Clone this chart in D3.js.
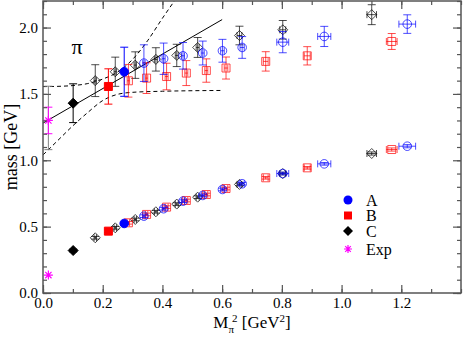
<!DOCTYPE html>
<html><head><meta charset="utf-8">
<script src="https://cdn.jsdelivr.net/npm/d3@7"></script>
<style>
html,body{margin:0;padding:0;background:#fff;}
svg{display:block;font-family:"Liberation Serif","Times New Roman",serif;}
</style></head>
<body><svg id="c" width="463" height="340"></svg>
<script>
// ---------- data ----------
const xTicks = [0.0, 0.2, 0.4, 0.6, 0.8, 1.0, 1.2];
const yTicks = [0.0, 0.5, 1.0, 1.5, 2.0];

// A (blue): first point filled, the rest open
const aX      = [0.272, 0.338, 0.404, 0.469, 0.535, 0.601, 0.667, 0.803, 0.942, 1.220];
const aXErr   = [0.004, 0.004, 0.005, 0.005, 0.005, 0.006, 0.007, 0.020, 0.022, 0.028];
const aUpper  = [1.667, 1.732, 1.765, 1.787, 1.808, 1.825, 1.850, 1.890, 1.933, 2.026];
const aUpErr  = [0.185, 0.138, 0.118, 0.100, 0.090, 0.086, 0.082, 0.080, 0.076, 0.070];
const aLower  = [0.524, 0.579, 0.635, 0.692, 0.735, 0.780, 0.823, 0.900, 0.973, 1.106];
const aLoErr  = [0.010, 0.010, 0.010, 0.010, 0.010, 0.010, 0.010, 0.010, 0.010, 0.012];

// B (red)
const bX      = [0.219, 0.286, 0.347, 0.414, 0.480, 0.547, 0.613, 0.746, 0.885, 1.168];
const bXErr   = [0.004, 0.004, 0.004, 0.005, 0.005, 0.005, 0.006, 0.008, 0.010, 0.018];
const bUpper  = [1.556, 1.599, 1.619, 1.631, 1.657, 1.676, 1.695, 1.745, 1.787, 1.895];
const bUpErr  = [0.133, 0.123, 0.116, 0.100, 0.094, 0.088, 0.083, 0.073, 0.069, 0.060];
const bLower  = [0.466, 0.529, 0.592, 0.647, 0.697, 0.742, 0.787, 0.868, 0.943, 1.081];
const bLoErr  = [0.010, 0.010, 0.010, 0.010, 0.010, 0.010, 0.010, 0.010, 0.010, 0.012];

// C (black)
const cX      = [0.101, 0.175, 0.242, 0.309, 0.378, 0.448, 0.518, 0.658, 0.803, 1.101];
const cXErr   = [0.003, 0.004, 0.004, 0.004, 0.005, 0.005, 0.005, 0.008, 0.010, 0.016];
const cUpper  = [1.430, 1.600, 1.667, 1.717, 1.760, 1.790, 1.850, 1.940, 1.983, 2.097];
const cUpErr  = [0.146, 0.120, 0.110, 0.100, 0.088, 0.084, 0.075, 0.070, 0.070, 0.075];
const cLower  = [0.320, 0.416, 0.491, 0.554, 0.612, 0.670, 0.722, 0.818, 0.900, 1.051];
const cLoErr  = [0.010, 0.010, 0.010, 0.010, 0.010, 0.010, 0.010, 0.010, 0.010, 0.012];

// experiment (magenta)
const expX    = [0.018, 0.018];
const expY    = [1.300, 0.135];
const expErr  = [0.100, 0.000];

// chiral extrapolation (grey bar at physical point)
const extrapX = [0.018];
const extrapY = [1.319];
const extrapErr = [0.239];

// fit line and error band
const fitX = [0.0, 0.6];
const fitY = [1.28, 2.06];
const bandUpX = [0.00, 0.05, 0.10, 0.15, 0.20, 0.25, 0.30, 0.35, 0.40, 0.44];
const bandUpY = [1.555, 1.557, 1.563, 1.578, 1.612, 1.665, 1.760, 1.900, 2.070, 2.200];
const bandLoX = [0.00, 0.05, 0.10, 0.15, 0.20, 0.25, 0.30, 0.40, 0.50, 0.60];
const bandLoY = [1.040, 1.150, 1.260, 1.360, 1.450, 1.497, 1.512, 1.520, 1.524, 1.526];

const legendLabels = ["A", "B", "C", "Exp"];

// ---------- layout ----------
const L = 43, R = 461, T = 1, B = 293;
const svg = d3.select("#c");
const x = d3.scaleLinear().domain([0, 1.4]).range([L, R]);
const y = d3.scaleLinear().domain([0, 2.2]).range([B, T]);

const BLUE = "#0000ff", RED = "#ff0000", BLACK = "#000000", MAG = "#ff00ff";

svg.append("clipPath").attr("id", "clip").append("rect")
  .attr("x", L).attr("y", T).attr("width", R - L).attr("height", B - T);
const plot = svg.append("g").attr("clip-path", "url(#clip)");

// ---------- lines ----------
const line = d3.line().x(d => x(d[0])).y(d => y(d[1]));
const curve = d3.line().x(d => x(d[0])).y(d => y(d[1])).curve(d3.curveMonotoneX);
plot.append("path").datum(fitX.map((v, i) => [v, fitY[i]]))
  .attr("d", line).attr("fill", "none").attr("stroke", "#000").attr("stroke-width", 1);
plot.append("path").datum(bandUpX.map((v, i) => [v, bandUpY[i]]))
  .attr("d", curve).attr("fill", "none").attr("stroke", "#000").attr("stroke-width", 1)
  .attr("stroke-dasharray", "4,3");
plot.append("path").datum(bandLoX.map((v, i) => [v, bandLoY[i]]))
  .attr("d", curve).attr("fill", "none").attr("stroke", "#000").attr("stroke-width", 1)
  .attr("stroke-dasharray", "4,3");

// ---------- symbols ----------
function symbolPath(shape, size) {
  const s = size;
  if (shape === "circle") return d3.symbol(d3.symbolCircle, Math.PI * s * s)();
  if (shape === "square") return `M${-s},${-s}H${s}V${s}H${-s}Z`;
  if (shape === "diamond") return `M0,${-s * 1.25}L${s * 1.25},0L0,${s * 1.25}L${-s * 1.25},0Z`;
  if (shape === "star") return `M0,${-s}V${s}M${-s},0H${s}M${-s * 0.7},${-s * 0.7}L${s * 0.7},${s * 0.7}M${-s * 0.7},${s * 0.7}L${s * 0.7},${-s * 0.7}`;
}

function errBar(g, cx, cy, xe, ye, color, op) {
  const px = x(cx), py = y(cy);
  const cap = 4;
  if (ye > 0) {
    const y1 = y(cy + ye), y2 = y(cy - ye);
    g.append("line").attr("x1", px).attr("x2", px).attr("y1", y1).attr("y2", y2)
      .attr("stroke", color).attr("stroke-opacity", op).attr("stroke-width", 1);
    [y1, y2].forEach(yy => g.append("line").attr("x1", px - cap).attr("x2", px + cap)
      .attr("y1", yy).attr("y2", yy).attr("stroke", color).attr("stroke-opacity", op).attr("stroke-width", 1));
  }
  if (xe > 0) {
    const x1 = x(cx - xe), x2 = x(cx + xe);
    g.append("line").attr("x1", x1).attr("x2", x2).attr("y1", py).attr("y2", py)
      .attr("stroke", color).attr("stroke-opacity", op).attr("stroke-width", 1);
    [x1, x2].forEach(xx => g.append("line").attr("x1", xx).attr("x2", xx)
      .attr("y1", py - 3.5).attr("y2", py + 3.5).attr("stroke", color).attr("stroke-opacity", op).attr("stroke-width", 1));
  }
}

function drawSeries(xs, xes, ups, upes, los, loes, color, shape, size) {
  const g = plot.append("g");
  xs.forEach((xv, i) => {
    const filled = i === 0;
    const op = filled ? 1 : 0.7;
    [[ups[i], upes[i]], [los[i], loes[i]]].forEach(([yv, ye]) => {
      errBar(g, xv, yv, filled ? 0 : xes[i], ye, color, op);
      g.append("path").attr("d", symbolPath(shape, size))
        .attr("transform", `translate(${x(xv)},${y(yv)})`)
        .attr("fill", filled ? color : "none")
        .attr("stroke", color).attr("stroke-opacity", op).attr("stroke-width", 1);
    });
  });
}

// grey extrapolated bar
extrapX.forEach((xv, i) => errBar(plot, xv, extrapY[i], 0, extrapErr[i], "#808080", 1));

drawSeries(cX, cXErr, cUpper, cUpErr, cLower, cLoErr, BLACK, "diamond", 4);
drawSeries(bX, bXErr, bUpper, bUpErr, bLower, bLoErr, RED, "square", 4);
drawSeries(aX, aXErr, aUpper, aUpErr, aLower, aLoErr, BLUE, "circle", 4.3);

expX.forEach((xv, i) => {
  errBar(plot, xv, expY[i], 0, expErr[i], MAG, 1);
  plot.append("path").attr("d", symbolPath("star", 4.5))
    .attr("transform", `translate(${x(xv)},${y(expY[i])})`)
    .attr("fill", "none").attr("stroke", MAG).attr("stroke-width", 1.2);
});

// ---------- axes ----------
const axisColor = "#555";
function styleAxis(g) {
  g.select(".domain").remove();
  g.selectAll("line").attr("stroke", axisColor).attr("stroke-width", 1.2);
  g.selectAll("text").attr("font-family", "Liberation Serif, serif").attr("font-size", 15).attr("fill", "#000");
}
const xMinor = d3.range(0, 1.41, 0.1);
const yMinor = d3.range(0, 2.21, 0.1);

// bottom
svg.append("g").attr("transform", `translate(0,${B})`)
  .call(d3.axisBottom(x).tickValues(xMinor).tickSize(-4).tickFormat(""))
  .call(styleAxis);
svg.append("g").attr("transform", `translate(0,${B})`)
  .call(d3.axisBottom(x).tickValues(xTicks).tickSize(-8).tickPadding(4).tickFormat(d3.format(".1f")))
  .call(styleAxis);
// top
svg.append("g").attr("transform", `translate(0,${T})`)
  .call(d3.axisTop(x).tickValues(xMinor).tickSize(-4).tickFormat("")).call(styleAxis);
svg.append("g").attr("transform", `translate(0,${T})`)
  .call(d3.axisTop(x).tickValues(xTicks).tickSize(-8).tickFormat("")).call(styleAxis);
// left
svg.append("g").attr("transform", `translate(${L},0)`)
  .call(d3.axisLeft(y).tickValues(yMinor).tickSize(-4).tickFormat("")).call(styleAxis);
svg.append("g").attr("transform", `translate(${L},0)`)
  .call(d3.axisLeft(y).tickValues(yTicks).tickSize(-8).tickPadding(5).tickFormat(d3.format(".1f")))
  .call(styleAxis);
// right
svg.append("g").attr("transform", `translate(${R},0)`)
  .call(d3.axisRight(y).tickValues(yMinor).tickSize(-4).tickFormat("")).call(styleAxis);
svg.append("g").attr("transform", `translate(${R},0)`)
  .call(d3.axisRight(y).tickValues(yTicks).tickSize(-8).tickFormat("")).call(styleAxis);

// frame
svg.append("rect").attr("x", L).attr("y", T).attr("width", R - L).attr("height", B - T)
  .attr("fill", "none").attr("stroke", axisColor).attr("stroke-width", 1.5);

// ---------- titles ----------
const xt = svg.append("text").attr("x", (L + R) / 2).attr("y", 328)
  .attr("text-anchor", "middle").attr("font-size", 17);
xt.append("tspan").text("M");
xt.append("tspan").attr("font-size", 11).attr("dy", 5).text("π");
xt.append("tspan").attr("font-size", 11).attr("dy", -11).attr("dx", -2).text("2");
xt.append("tspan").attr("dy", 6).text(" [GeV");
xt.append("tspan").attr("font-size", 11).attr("dy", -6).text("2");
xt.append("tspan").attr("dy", 6).text("]");

svg.append("text").attr("transform", `translate(17,${(T + B) / 2}) rotate(-90)`)
  .attr("text-anchor", "middle").attr("font-size", 18).text("mass [GeV]");

svg.append("text").attr("x", 77).attr("y", 54).attr("text-anchor", "middle")
  .attr("font-size", 22).text("π");

// ---------- legend ----------
const legColors = [BLUE, RED, BLACK, MAG];
const legShapes = ["circle", "square", "diamond", "star"];
const legY = [200, 215.5, 231, 249];
legendLabels.forEach((lab, i) => {
  const p = svg.append("path").attr("d", symbolPath(legShapes[i], legShapes[i] === "circle" ? 4.5 : 4))
    .attr("transform", `translate(348,${legY[i]})`);
  if (legShapes[i] === "star") p.attr("fill", "none").attr("stroke", MAG).attr("stroke-width", 1.2);
  else p.attr("fill", legColors[i]);
  svg.append("text").attr("x", 366).attr("y", legY[i] + 5.5).attr("font-size", 16).text(lab);
});
</script>
</body></html>
